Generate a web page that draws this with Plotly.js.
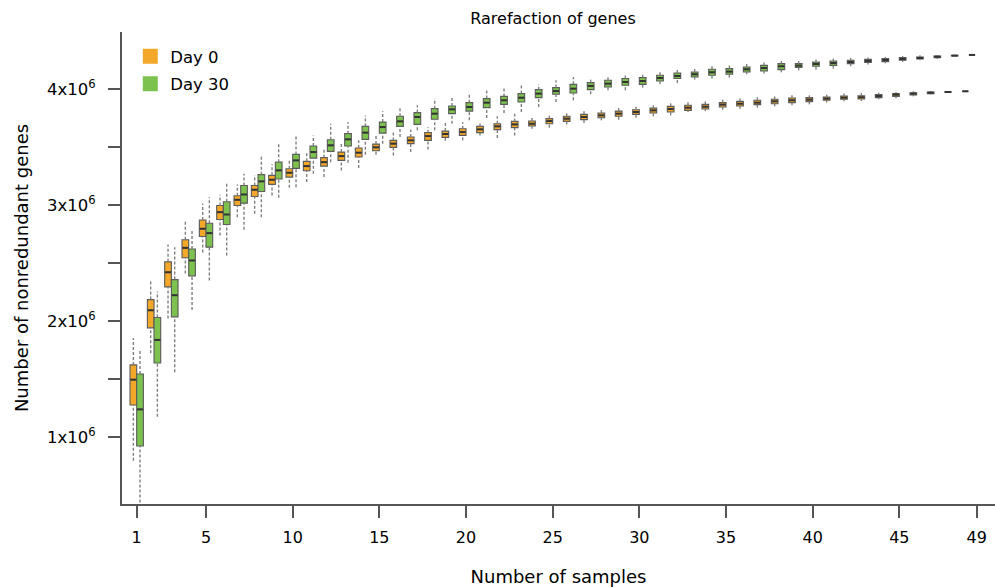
<!DOCTYPE html>
<html>
<head>
<meta charset="utf-8">
<script src="https://cdn.plot.ly/plotly-3.0.1.min.js"></script>
<style>html,body{margin:0;padding:0;background:#fff;}#chart{width:995px;height:587px;}</style>
</head>
<body>
<div id="chart"></div>
<script>
// Number of samples
const samples = [1,2,3,4,5,6,7,8,9,10,11,12,13,14,15,16,17,18,19,20,21,22,23,24,25,26,27,28,29,30,31,32,33,34,35,36,37,38,39,40,41,42,43,44,45,46,47,48,49];

// Day 0 (values in millions of genes)
const day0_lo  = [0.793,1.720,2.020,2.409,2.591,2.738,2.896,2.925,3.084,3.150,3.199,3.242,3.300,3.320,3.435,3.429,3.458,3.481,3.556,3.559,3.602,3.579,3.602,3.660,3.669,3.697,3.709,3.732,3.738,3.755,3.767,3.775,3.804,3.812,3.824,3.833,3.842,3.853,3.862,3.870,3.885,3.896,3.899,3.914,3.922,3.939,3.954,3.972,3.983];
const day0_q1  = [1.274,1.940,2.294,2.545,2.729,2.876,2.997,3.075,3.179,3.242,3.297,3.337,3.386,3.415,3.470,3.499,3.531,3.559,3.585,3.602,3.626,3.652,3.669,3.683,3.703,3.723,3.738,3.755,3.767,3.784,3.795,3.804,3.818,3.830,3.847,3.856,3.868,3.876,3.885,3.894,3.905,3.914,3.916,3.928,3.939,3.951,3.963,3.975,3.983];
const day0_med = [1.493,2.092,2.420,2.631,2.796,2.939,3.046,3.133,3.219,3.280,3.337,3.371,3.423,3.453,3.499,3.531,3.559,3.596,3.614,3.631,3.654,3.680,3.697,3.703,3.726,3.747,3.761,3.775,3.790,3.804,3.818,3.830,3.842,3.850,3.868,3.876,3.885,3.896,3.905,3.911,3.920,3.928,3.931,3.942,3.954,3.963,3.971,3.977,3.983];
const day0_q3  = [1.620,2.184,2.510,2.701,2.872,2.997,3.081,3.170,3.257,3.314,3.378,3.410,3.458,3.493,3.527,3.559,3.588,3.626,3.639,3.660,3.680,3.703,3.723,3.726,3.747,3.767,3.784,3.795,3.812,3.824,3.838,3.853,3.862,3.870,3.885,3.896,3.905,3.914,3.925,3.928,3.934,3.942,3.945,3.954,3.963,3.971,3.977,3.979,3.983];
const day0_hi  = [1.853,2.349,2.660,2.867,3.014,3.090,3.179,3.257,3.352,3.401,3.458,3.481,3.539,3.560,3.602,3.637,3.654,3.674,3.717,3.717,3.717,3.767,3.790,3.761,3.775,3.804,3.812,3.833,3.847,3.853,3.862,3.882,3.888,3.899,3.911,3.920,3.934,3.939,3.948,3.948,3.954,3.963,3.968,3.971,3.977,3.983,3.986,3.982,3.983];

// Day 30 (values in millions of genes)
const day30_lo  = [0.432,1.173,1.556,2.095,2.349,2.565,2.787,2.896,3.064,3.155,3.271,3.371,3.366,3.435,3.531,3.588,3.646,3.646,3.703,3.732,3.752,3.795,3.804,3.847,3.890,3.905,3.957,3.991,3.991,4.015,4.043,4.054,4.084,4.093,4.101,4.130,4.136,4.147,4.164,4.170,4.179,4.199,4.214,4.225,4.236,4.251,4.262,4.286,4.297];
const day30_q1  = [0.920,1.637,2.035,2.389,2.637,2.833,3.017,3.118,3.225,3.317,3.406,3.464,3.510,3.568,3.622,3.680,3.697,3.741,3.790,3.812,3.842,3.870,3.890,3.928,3.957,3.968,3.997,4.020,4.035,4.043,4.072,4.093,4.106,4.121,4.130,4.150,4.158,4.170,4.188,4.199,4.207,4.222,4.231,4.239,4.251,4.262,4.274,4.289,4.297];
const day30_med = [1.236,1.836,2.222,2.522,2.758,2.919,3.092,3.205,3.300,3.386,3.458,3.516,3.568,3.626,3.674,3.723,3.761,3.790,3.827,3.847,3.885,3.905,3.928,3.963,3.985,4.006,4.029,4.049,4.063,4.072,4.098,4.115,4.130,4.147,4.153,4.173,4.184,4.199,4.205,4.219,4.227,4.236,4.245,4.253,4.262,4.271,4.282,4.291,4.297];
const day30_q3  = [1.542,2.029,2.357,2.621,2.844,3.029,3.170,3.263,3.371,3.438,3.510,3.565,3.617,3.680,3.717,3.767,3.799,3.833,3.856,3.885,3.920,3.939,3.963,3.997,4.015,4.043,4.058,4.078,4.093,4.101,4.121,4.141,4.150,4.173,4.179,4.193,4.207,4.222,4.222,4.236,4.245,4.251,4.259,4.265,4.274,4.279,4.288,4.293,4.297];
const day30_hi  = [1.744,2.254,2.637,2.785,3.069,3.190,3.271,3.421,3.531,3.602,3.602,3.703,3.717,3.775,3.810,3.847,3.862,3.920,3.925,3.963,3.991,4.015,4.041,4.043,4.078,4.106,4.093,4.112,4.130,4.136,4.150,4.170,4.179,4.201,4.207,4.222,4.231,4.245,4.245,4.257,4.265,4.271,4.274,4.279,4.288,4.294,4.297,4.295,4.297];

// Axis ticks
const xTickVals = [1,5,10,15,20,25,30,35,40,45,49.46];
const xTickText = ['1','5','10','15','20','25','30','35','40','45','49'];
const yTickVals = [1.0,2.0,3.0,4.0];
const yTickText = ['1x10<sup>6</sup>','2x10<sup>6</sup>','3x10<sup>6</sup>','4x10<sup>6</sup>'];
const yMinorTickVals = [1.5,2.5,3.5];

const M = 1e6;
const ORANGE = '#F4A82A';
const GREEN = '#7DC24E';
const EDGE = '#5a5a5a';
const WHISK = '#808080';
const OFF = 0.1925, BW = 0.385;

const toG = a => a.map(v => v * M);

function boxTrace(name, color, off, q1, med, q3) {
  return {
    type: 'box', name: name, showlegend: false,
    x: samples.map(n => n + off),
    q1: toG(q1), median: toG(med), q3: toG(q3),
    lowerfence: toG(q1), upperfence: toG(q3),
    width: BW, fillcolor: color,
    line: {color: EDGE, width: 1.1},
    whiskerwidth: 0, boxpoints: false, hoverinfo: 'skip'
  };
}
function whiskerTrace(off, lo, q1, q3, hi) {
  const xs = [], ys = [];
  samples.forEach((n, i) => {
    xs.push(n + off, n + off, null, n + off, n + off, null);
    ys.push(lo[i] * M, q1[i] * M, null, q3[i] * M, hi[i] * M, null);
  });
  return {
    type: 'scatter', mode: 'lines', x: xs, y: ys, showlegend: false,
    line: {color: WHISK, width: 1.4, dash: '3px,2px'}, hoverinfo: 'skip', connectgaps: false
  };
}
function medianTrace(off, med) {
  const xs = [], ys = [];
  samples.forEach((n, i) => {
    xs.push(n + off - BW / 2 + 0.02, n + off + BW / 2 - 0.02, null);
    ys.push(med[i] * M, med[i] * M, null);
  });
  return {
    type: 'scatter', mode: 'lines', x: xs, y: ys, showlegend: false,
    line: {color: '#333333', width: 2}, hoverinfo: 'skip', connectgaps: false
  };
}
function legendTrace(name, color, group) {
  return {
    type: 'scatter', mode: 'markers', x: [null], y: [null], name: name,
    legendgroup: group,
    marker: {symbol: 'square', size: 15, color: color, line: {width: 0}}
  };
}

const data = [
  whiskerTrace(-OFF, day0_lo, day0_q1, day0_q3, day0_hi),
  whiskerTrace(OFF, day30_lo, day30_q1, day30_q3, day30_hi),
  boxTrace('Day 0', ORANGE, -OFF, day0_q1, day0_med, day0_q3),
  boxTrace('Day 30', GREEN, OFF, day30_q1, day30_med, day30_q3),
  medianTrace(-OFF, day0_med),
  medianTrace(OFF, day30_med),
  legendTrace('Day 0', ORANGE, 'a'),
  legendTrace('Day 30', GREEN, 'b')
];

const layout = {
  width: 995, height: 587,
  margin: {l: 122, r: 0, t: 32, b: 83, pad: 0},
  paper_bgcolor: '#fff', plot_bgcolor: '#fff',
  font: {family: 'DejaVu Sans, sans-serif', color: '#000', size: 16},
  boxmode: 'overlay',
  title: {text: 'Rarefaction of genes', font: {size: 16, color: '#000'}, x: 553/995, xanchor: 'center', y: 1 - 18/587, yanchor: 'middle'},
  showlegend: true,
  legend: {x: 0.0095, y: 0.985, xanchor: 'left', yanchor: 'top', font: {size: 16.5}, bgcolor: 'rgba(0,0,0,0)', tracegroupgap: 3},
  xaxis: {
    range: [0.152, 50.52], tickmode: 'array', tickvals: xTickVals, ticktext: xTickText,
    ticks: 'outside', ticklen: 12, tickwidth: 2, tickcolor: '#555',
    showline: true, linecolor: '#555', linewidth: 2, showgrid: false, zeroline: false,
    tickfont: {size: 16}, ticklabelstandoff: 6,
    title: {text: 'Number of samples', font: {size: 18}, standoff: 26}
  },
  yaxis: {
    range: [0.419 * M, 4.495 * M], tickmode: 'array', tickvals: yTickVals.map(v => v * M), ticktext: yTickText,
    ticks: 'outside', ticklen: 12, tickwidth: 2, tickcolor: '#555',
    minor: {tickmode: 'array', tickvals: yMinorTickVals.map(v => v * M), ticks: 'outside', ticklen: 12, tickwidth: 2, tickcolor: '#555', showgrid: false},
    showline: true, linecolor: '#555', linewidth: 2, showgrid: false, zeroline: false,
    tickfont: {size: 16.5}, ticklabelstandoff: 9,
    title: {text: 'Number of nonredundant genes', font: {size: 18}, standoff: 14}
  }
};

Plotly.newPlot('chart', data, layout, {displayModeBar: false, staticPlot: true});
</script>
</body>
</html>
